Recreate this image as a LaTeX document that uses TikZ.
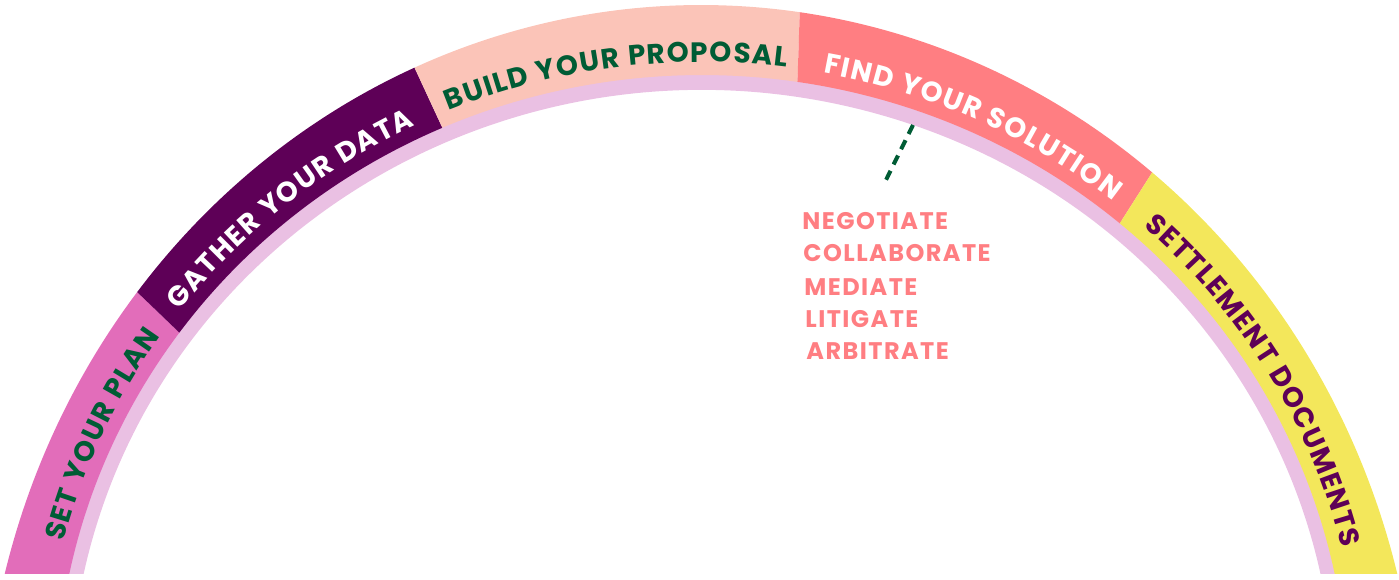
\documentclass[tikz,border=0pt]{standalone}
\usepackage{fontspec}
\setmainfont{Poppins}
\usetikzlibrary{decorations.text}
\definecolor{setpink}{HTML}{E26DBA}
\definecolor{gatherpurple}{HTML}{5E0057}
\definecolor{buildpeach}{HTML}{FBC4B8}
\definecolor{findcoral}{HTML}{FF7E82}
\definecolor{settleyellow}{HTML}{F3E75B}
\definecolor{ringlilac}{HTML}{EAC0E3}
\definecolor{darkgreen}{HTML}{005C35}
\newcommand\bandfont{\fontsize{14}{14}\selectfont\bfseries}
\begin{document}
\begin{tikzpicture}[x=0.5pt,y=0.5pt,
    band/.style 2 args={decorate,decoration={text effects along path,text={#2},text align=center,
        text effects/.cd,text along path,characters={text=#1,font=\bandfont},character widths={font=\bandfont,inner xsep=0.35pt}}},
    word/.style={anchor=base west,inner sep=0pt,text=findcoral,font=\fontsize{12}{12}\selectfont\bfseries\addfontfeatures{LetterSpace=6}}]
    \useasboundingbox (0,0) rectangle (1399,579);
    \clip (0,6) rectangle (1399,579);
    \coordinate (O) at (701,-181);
    \coordinate (I) at (702,-121);

    \fill[ringlilac] ([shift={(I)}]195:650 and 629) arc[start angle=195,end angle=-15,x radius=650,y radius=629]
        -- ([shift={(I)}]-15:632 and 610) arc[start angle=-15,end angle=195,x radius=632,y radius=610] -- cycle;

    \fill[setpink] ([shift={(O)}]141.7:718.5 and 755) arc[start angle=141.7,end angle=195,x radius=718.5,y radius=755]
        -- ([shift={(I)}]195:646 and 625) arc[start angle=195,end angle=144,x radius=646,y radius=625] -- cycle;
    \fill[gatherpurple] ([shift={(O)}]113.5:718.5 and 755) arc[start angle=113.5,end angle=141.7,x radius=718.5,y radius=755]
        -- ([shift={(I)}]144:646 and 625) arc[start angle=144,end angle=113.7,x radius=646,y radius=625] -- cycle;
    \fill[buildpeach] ([shift={(O)}]82.1:718.5 and 755) arc[start angle=82.1,end angle=113.5,x radius=718.5,y radius=755]
        -- ([shift={(I)}]113.7:646 and 625) arc[start angle=113.7,end angle=81.5,x radius=646,y radius=625] -- cycle;
    \fill[findcoral] ([shift={(O)}]51.1:718.5 and 755) arc[start angle=51.1,end angle=82.1,x radius=718.5,y radius=755]
        -- ([shift={(I)}]81.5:646 and 625) arc[start angle=81.5,end angle=49.7,x radius=646,y radius=625] -- cycle;
    \fill[settleyellow] ([shift={(O)}]-15:718.5 and 755) arc[start angle=-15,end angle=51.1,x radius=718.5,y radius=755]
        -- ([shift={(I)}]49.7:646 and 625) arc[start angle=49.7,end angle=-15,x radius=646,y radius=625] -- cycle;

    \path[band={darkgreen}{SET YOUR PLAN}] ([shift={(I)}]167.8:659 and 638) arc[start angle=167.8,end angle=143.1,x radius=659,y radius=638];
    \path[band={white}{GATHER YOUR DATA}] ([shift={(I)}]144.3:659 and 638) arc[start angle=144.3,end angle=113.9,x radius=659,y radius=638];
    \path[band={darkgreen}{BUILD YOUR PROPOSAL}] ([shift={(I)}]113.6:659 and 638) arc[start angle=113.6,end angle=81.6,x radius=659,y radius=638];
    \path[band={white}{FIND YOUR SOLUTION}] ([shift={(I)}]81.0:659 and 638) arc[start angle=81.0,end angle=49.8,x radius=659,y radius=638];
    \path[band={gatherpurple}{SETTLEMENT DOCUMENTS}] ([shift={(I)}]50.3:659 and 638) arc[start angle=50.3,end angle=11.4,x radius=659,y radius=638];

    \coordinate (tick) at (913,454);
    \coordinate (tickend) at (886,399);
    \draw[darkgreen,line width=2pt,dash pattern=on 5pt off 3.5pt] (tick) -- (tickend);

    \node[word] (negotiate) at (802,349.7) {NEGOTIATE};
    \node[word] (collaborate) at (803,317.3) {COLLABORATE};
    \node[word] (mediate) at (804,283) {MEDIATE};
    \node[word] (litigate) at (805,251.3) {LITIGATE};
    \node[word] (arbitrate) at (806,219) {ARBITRATE};
\end{tikzpicture}
\end{document}
